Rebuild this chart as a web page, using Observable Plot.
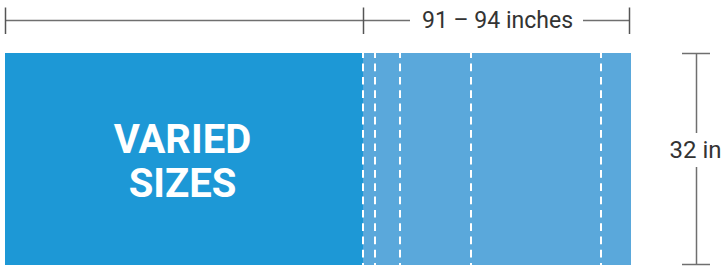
<!DOCTYPE html>
<html>
<head>
<meta charset="utf-8">
<script src="https://cdn.jsdelivr.net/npm/d3@7"></script>
<script src="https://cdn.jsdelivr.net/npm/@observablehq/plot@0.6"></script>
<style>
  html, body { margin: 0; padding: 0; background: #fff; }
  #chart svg { display: block; }
</style>
</head>
<body>
<div id="chart"></div>
<script>
// Diagram units (schematic layout units)
const sectionNames = ["VARIED\nSIZES", "91 – 94 inches"];
const sectionStart = [5, 363];
const sectionEnd = [363, 631];
const sectionColors = ["#1d98d6", "#5aa8db"];
const barTop = 53;
const barBottom = 265;
const seams = [363, 375, 400, 471, 601];

const widthLabel = "91 – 94 inches";
const widthDimY = 20;
const widthTicks = [5, 363, 629];
const widthSegments = [[5, 410], [583, 629]];

const heightLabel = "32 in";
const heightDimX = 696;
const heightSegments = [[53, 133], [167, 264]];
const heightCaps = [53, 264];

const sections = sectionNames.map((n, i) => ({
  name: n, x1: sectionStart[i], x2: sectionEnd[i], color: sectionColors[i]
}));

const lineColor = "#6f6f6f";
const textColor = "#333333";

const chart = Plot.plot({
  width: 723,
  height: 272,
  margin: 0,
  x: {domain: [0, 723], range: [0, 723], axis: null},
  y: {domain: [0, 272], range: [0, 272], axis: null},
  marks: [
    Plot.rect(sections, {x1: "x1", x2: "x2", y1: barTop, y2: barBottom, fill: "color"}),
    Plot.ruleX(seams, {x: d => d, dx: -0.5, y1: barTop, y2: barBottom, stroke: "white", strokeWidth: 2,
      strokeDasharray: "7.7,5.6", strokeDashoffset: 2.7}),
    Plot.text([sections[0]], {x: d => (d.x1 + d.x2) / 2 - 2, y: (barTop + barBottom) / 2 + 1,
      text: "name", fill: "white", fontSize: 40, fontWeight: "bold", lineHeight: 1.1,
      fontFamily: "Roboto", lineAnchor: "middle"}),
    // top width dimension
    Plot.ruleY(widthSegments, {y: () => widthDimY, x1: d => d[0], x2: d => d[1], stroke: lineColor, strokeWidth: 1.5}),
    Plot.ruleX(widthTicks, {x: d => d, y1: widthDimY - 12.5, y2: widthDimY + 14, stroke: "#555", strokeWidth: 1.5}),
    Plot.text([widthLabel], {x: (widthTicks[1] + widthTicks[2]) / 2 + 1, y: widthDimY, text: d => d,
      fill: textColor, fontSize: 23, fontFamily: "Roboto", lineAnchor: "middle"}),
    // right height dimension
    Plot.ruleX(heightSegments, {x: () => heightDimX, y1: d => d[0], y2: d => d[1], stroke: lineColor, strokeWidth: 1.5}),
    Plot.ruleY(heightCaps, {y: d => d, x1: heightDimX - 14, x2: heightDimX + 14, stroke: lineColor, strokeWidth: 1.5}),
    Plot.text([heightLabel], {x: heightDimX - 1, y: (heightSegments[0][1] + heightSegments[1][0]) / 2, text: d => d,
      fill: textColor, fontSize: 24, fontFamily: "Roboto", lineAnchor: "middle"})
  ]
});
document.getElementById("chart").appendChild(chart);
</script>
</body>
</html>
